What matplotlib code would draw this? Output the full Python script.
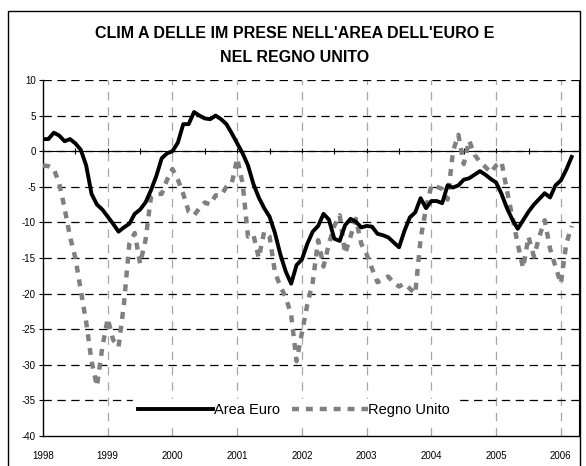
import numpy as np
import matplotlib.pyplot as plt
from matplotlib.patches import Rectangle

plt.rcParams['font.family'] = ['Liberation Sans', 'DejaVu Sans']
plt.rcParams['lines.scale_dashes'] = False
plt.rcParams['axes.unicode_minus'] = False

# monthly values, Jan 1998 onwards
area_euro = [1.7, 1.7, 2.6, 2.2, 1.4, 1.7, 1.1, 0.2, -2.0, -6.0,
             -7.5, -8.2, -9.2, -10.2, -11.3, -10.7, -10.2, -8.8, -8.2, -7.2,
             -5.5, -3.5, -1.0, -0.3, 0.0, 1.2, 3.8, 3.8, 5.5, 5.0,
             4.6, 4.5, 5.0, 4.5, 3.8, 2.5, 1.1, -0.3, -2.0, -4.6,
             -6.5, -8.0, -9.2, -11.5, -14.5, -16.9, -18.6, -16.0, -15.2, -13.0,
             -11.3, -10.5, -8.8, -9.6, -12.3, -12.6, -10.4, -9.5, -9.9, -10.7,
             -10.5, -10.6, -11.6, -11.8, -12.1, -12.8, -13.5, -11.2, -9.3, -8.6,
             -6.6, -8.0, -7.0, -7.0, -7.3, -4.8, -5.1, -4.8, -4.0, -3.8,
             -3.3, -2.8, -3.3, -3.9, -4.4, -6.0, -8.0, -9.6, -10.9, -9.7,
             -8.5, -7.5, -6.7, -5.9, -6.5, -4.8, -4.1, -2.6, -0.8]

regno_unito = [-2.0, -2.1, -2.5, -4.5, -8.0, -12.0, -15.0, -19.5, -24.0, -29.5,
               -33.0, -27.5, -23.5, -26.5, -27.5, -21.5, -13.0, -11.5, -15.8, -12.5,
               -6.5, -6.0, -6.0, -4.0, -2.5, -4.0, -6.0, -8.5, -9.0, -8.0,
               -7.2, -7.5, -6.2, -6.2, -5.0, -4.5, -1.0, -4.5, -12.0, -11.7,
               -15.0, -11.3, -12.0, -17.0, -19.0, -20.5, -23.0, -29.5, -25.5, -21.5,
               -18.4, -12.5, -16.2, -13.0, -10.5, -9.0, -14.4, -12.0, -9.5, -13.0,
               -14.5, -16.5, -18.4, -18.0, -17.6, -18.5, -19.0, -18.6, -19.3, -20.0,
               -12.3, -8.0, -4.8, -5.0, -5.3, -6.8, 0.0, 2.3, -1.8, 1.5,
               -0.5, -1.5, -2.2, -3.0, -2.0, -1.5, -5.5, -9.2, -13.0, -16.4,
               -12.0, -14.8, -12.0, -9.7, -13.7, -16.2, -18.6, -13.0, -10.5]

years = list(range(1998, 2007))
year_labels = [str(y) for y in years]
y_ticks = list(range(-40, 11, 5))

t_euro = 1998 + np.arange(len(area_euro)) / 12
t_uk = 1998 + np.arange(len(regno_unito)) / 12

fig = plt.figure(figsize=(5.86, 4.66), dpi=100)
ax = fig.add_axes([43 / 586, 30 / 466, 536 / 586, 356 / 466])

ax.plot(t_euro, area_euro, color='black', lw=2.8, label='Area Euro',
        solid_joinstyle='round', zorder=4)
ax.plot(t_uk, regno_unito, color='#808080', lw=3.2, dashes=(5, 5),
        label='Regno Unito', zorder=3)

ax.set_xlim(1998, 2006.28)
ax.set_ylim(-40, 10)
ax.set_xticks(years)
ax.set_xticklabels(year_labels)
ax.set_yticks(y_ticks)
ax.tick_params(axis='x', length=0, pad=11, labelsize=7)
ax.tick_params(axis='y', length=3, width=0.8, direction='out', pad=2, labelsize=7)

# gridlines: grey dashed vertical, black dashed horizontal
for y in years[1:]:
    ax.axvline(y, color='#a6a6a6', lw=0.9, dashes=(6, 5), zorder=1)
for v in y_ticks[1:]:
    ax.axhline(v, color='black', lw=0.9, dashes=(6, 4), zorder=1)

ax.spines['top'].set_visible(False)
ax.spines['right'].set_linewidth(0.8)
ax.spines['left'].set_linewidth(1.0)
ax.spines['bottom'].set_linewidth(1.0)

# zero line with half-year ticks (category axis crossing at 0)
zero_ax = ax.secondary_xaxis(0.8)
zero_ax.set_xticks(np.arange(1998, 2006.3, 0.5))
zero_ax.tick_params(direction='inout', length=5, width=0.8,
                    labeltop=False, labelbottom=False)
zero_ax.spines['top'].set_linewidth(0.8)
zero_ax.spines['bottom'].set_linewidth(0.8)

leg = ax.legend(loc='lower center', bbox_to_anchor=(0.468, 0.04), ncol=2,
                fontsize=10.5, handlelength=5.2, handletextpad=0.05,
                columnspacing=0.8, frameon=True, fancybox=False,
                borderpad=0.3, borderaxespad=0)
leg.get_frame().set_facecolor('white')
leg.get_frame().set_edgecolor('white')
leg.get_frame().set_alpha(1)
leg.set_zorder(5)

fig.text(0.503, 0.945, "CLIM A DELLE IM PRESE NELL'AREA DELL'EURO E\nNEL REGNO UNITO",
         ha='center', va='top', fontsize=11.5, fontweight='bold', linespacing=1.75)

fig.add_artist(Rectangle((8 / 586, -0.01), 572 / 586, 1.01 - 11 / 466,
                         transform=fig.transFigure, fill=False,
                         edgecolor='black', lw=1.0))

fig.savefig('out.png', dpi=100)
